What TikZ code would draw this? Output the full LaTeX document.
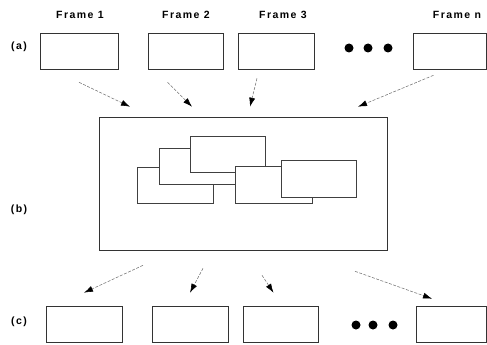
\documentclass[tikz,border=0pt]{standalone}
\usepackage{fontspec}
\setmainfont{Liberation Sans}
\newfontfamily\lblfont[LetterSpace=14]{Liberation Sans}
\usetikzlibrary{arrows.meta}

\tikzset{
  frame/.style={rectangle, draw=black!80, line width=0.6pt, inner sep=0pt,
                minimum width=76pt, minimum height=36pt},
  mosaic/.style={rectangle, draw=black!75, fill=white, line width=0.55pt,
                 inner sep=0pt, minimum width=76pt, minimum height=36pt},
  arr/.style={draw=black!55, line width=0.55pt, dash pattern=on 3pt off 1.5pt,
              -{Latex[black,length=9pt,width=6pt]}},
  lbl/.style={font=\lblfont\bfseries\fontsize{10.5}{12}\selectfont},
  dot/.style={circle, fill=black, inner sep=0pt, minimum size=9pt}
}

\begin{document}
\begin{tikzpicture}[x=1pt,y=-1pt]
   \useasboundingbox (0,0) rectangle (487,345);

   % input frames
   \node [lbl] (t1) at (80,15) {Frame 1};
   \node [lbl] (t2) at (186,15) {Frame 2};
   \node [lbl] (t3) at (283,15) {Frame 3};
   \node [lbl] (tn) at (457,15) {Frame n};
   \node [lbl] (la) at (19,47) {(a)};
   \node [frame, minimum width=78pt] (f1) at (79,51) {};
   \node [frame, minimum width=75pt] (f2) at (185.5,51) {};
   \node [frame] (f3) at (276,51) {};
   \node [frame, minimum width=73pt] (fn) at (449.5,51) {};
   \node [dot] (d1) at (349,48) {};
   \node [dot] (d2) at (368,48) {};
   \node [dot] (d3) at (388,48) {};

   % mosaic
   \node [lbl] (lb) at (19,210) {(b)};
   \node [frame, minimum width=288pt, minimum height=133pt] (box) at (243,183.5) {};
   \node [mosaic] (r1) at (175,185) {};
   \node [mosaic] (r2) at (197,166) {};
   \node [mosaic, minimum width=75pt] (r3) at (227.5,154) {};
   \node [mosaic, minimum width=77pt, minimum height=37pt] (r4) at (273.5,184.5) {};
   \node [mosaic, minimum width=75pt, minimum height=37pt] (r5) at (318.5,178.5) {};

   % output frames
   \node [lbl] (lc) at (19,322) {(c)};
   \node [frame] (c1) at (84,324) {};
   \node [frame] (c2) at (190,324) {};
   \node [frame, minimum width=75pt] (c3) at (280.5,324) {};
   \node [frame, minimum width=70pt] (cn) at (451,324) {};
   \node [dot] (e1) at (356,325) {};
   \node [dot] (e2) at (373,325) {};
   \node [dot] (e3) at (393,325) {};

   \path ([yshift=-13pt]f1.south) edge[arr] ([xshift=-113pt,yshift=10pt]box.north)
         ([xshift=-18pt,yshift=-13pt]f2.south) edge[arr] ([xshift=-51pt,yshift=10pt]box.north)
         ([xshift=-19pt,yshift=-9pt]f3.south) edge[arr] ([xshift=7pt,yshift=10pt]box.north)
         ([xshift=-16pt,yshift=-6pt]fn.south) edge[arr] ([xshift=115pt,yshift=10pt]box.north);

   \path ([xshift=-100pt,yshift=-15pt]box.south) edge[arr] ([yshift=13pt]c1.north)
         ([xshift=-40pt,yshift=-18pt]box.south) edge[arr] ([yshift=13pt]c2.north)
         ([xshift=19pt,yshift=-25pt]box.south) edge[arr] ([xshift=-7pt,yshift=13pt]c3.north)
         ([xshift=112pt,yshift=-21pt]box.south) edge[arr] ([xshift=-19pt,yshift=7pt]cn.north);
\end{tikzpicture}
\end{document}
